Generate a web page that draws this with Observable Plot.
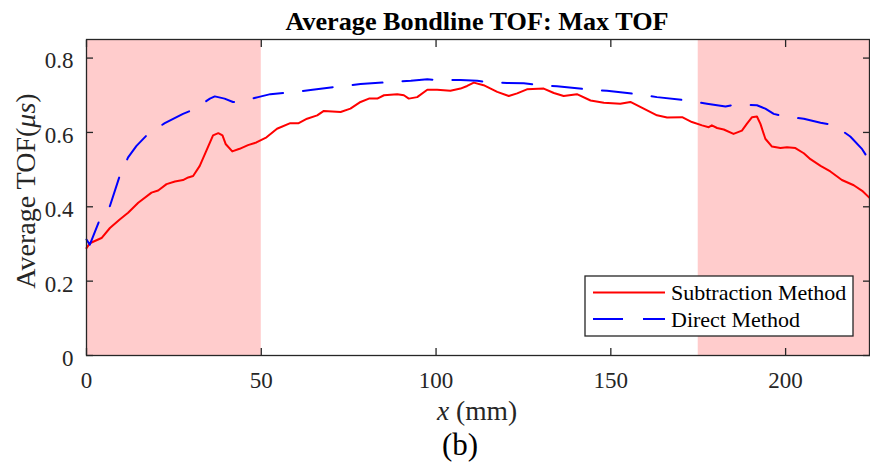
<!DOCTYPE html>
<html><head><meta charset="utf-8">
<script src="https://cdn.jsdelivr.net/npm/d3@7"></script>
<script src="https://cdn.jsdelivr.net/npm/@observablehq/plot@0.6"></script>
<style>body{margin:0;background:#fff} svg{display:block}</style>
</head><body><div id="chart"></div>
<script>
const subX = [0, 0.95, 4.3, 6.7, 9.5, 11.9, 14.8, 18.6, 20.5, 22.9, 25.3, 27.6, 29.1, 30.5, 32.4, 34.3, 36.2, 37.7, 38.9, 39.8, 41.7, 43.8, 46.2, 48.6, 51.5, 54.5, 58.3, 60.7, 63.1, 66, 67.9, 72.7, 75.5, 78.4, 80.8, 83.2, 85.1, 88.9, 90.8, 92.2, 94.6, 97.5, 100.3, 104.1, 107, 108.9, 110.8, 113.6, 117.5, 120.8, 123.2, 126, 130.8, 133.7, 136.5, 140.3, 144.2, 148, 152.7, 155.6, 159.4, 163.2, 166.1, 170.4, 173.2, 176.1, 178, 178.9, 180.4, 182.3, 185.1, 187.5, 188.9, 190.4, 191.8, 192.8, 194.2, 196.1, 198.5, 200.4, 202.8, 205.2, 207.1, 210, 212.8, 216.1, 219.5, 221.9, 224];
const subY = [0.289, 0.302, 0.316, 0.343, 0.366, 0.384, 0.411, 0.438, 0.444, 0.461, 0.468, 0.472, 0.479, 0.483, 0.51, 0.551, 0.592, 0.598, 0.592, 0.569, 0.549, 0.556, 0.566, 0.573, 0.587, 0.61, 0.625, 0.625, 0.637, 0.646, 0.658, 0.655, 0.664, 0.682, 0.691, 0.691, 0.70, 0.703, 0.70, 0.691, 0.695, 0.715, 0.715, 0.712, 0.718, 0.725, 0.734, 0.727, 0.709, 0.698, 0.705, 0.716, 0.718, 0.706, 0.698, 0.703, 0.686, 0.68, 0.677, 0.682, 0.664, 0.646, 0.64, 0.641, 0.628, 0.619, 0.614, 0.619, 0.612, 0.608, 0.596, 0.605, 0.623, 0.641, 0.643, 0.623, 0.583, 0.562, 0.558, 0.56, 0.558, 0.544, 0.528, 0.51, 0.495, 0.472, 0.458, 0.443, 0.424];
const dirX = [0, 0.95, 3.8, 6.7, 9.5, 11.9, 14.3, 17.6, 22.4, 27.6, 30.5, 35.3, 36.7, 39.5, 41.9, 43.4, 46, 49.1, 52.6, 57.4, 64.1, 71.7, 78.4, 86, 92.8, 97.5, 100.3, 107, 111.8, 114.1, 120.3, 125.1, 128.4, 134.6, 143.2, 148.9, 157.5, 163.2, 171.8, 177.5, 180.4, 182.8, 185.7, 191.8, 194.2, 196.6, 199.5, 205.2, 210, 213.8, 218.5, 221.9, 224];
const dirY = [0.312, 0.298, 0.366, 0.402, 0.483, 0.533, 0.564, 0.596, 0.625, 0.65, 0.661, 0.691, 0.697, 0.691, 0.682, 0.682, 0.688, 0.695, 0.703, 0.707, 0.714, 0.723, 0.73, 0.735, 0.739, 0.743, 0.741, 0.741, 0.739, 0.736, 0.733, 0.732, 0.729, 0.724, 0.716, 0.712, 0.703, 0.695, 0.686, 0.677, 0.673, 0.67, 0.675, 0.673, 0.664, 0.65, 0.643, 0.637, 0.626, 0.62, 0.589, 0.555, 0.524];
const shadeStart = [0, 175];
const shadeEnd = [50, 224];
const xTicks = [0, 50, 100, 150, 200];
const yTicks = [0, 0.2, 0.4, 0.6, 0.8];
const seriesNames = ["Subtraction Method", "Direct Method"];
const titleText = "Average Bondline TOF: Max TOF";

const sub = subX.map((x, i) => ({x, y: subY[i]}));
const dir = dirX.map((x, i) => ({x, y: dirY[i]}));
const shaded = shadeStart.map((s, i) => ({x1: s, x2: shadeEnd[i]}));

const axisColor = "#262626";
const ff = "Liberation Serif, Times New Roman, serif";
const plot = Plot.plot({
  width: 870, height: 466,
  marginLeft: 86, marginRight: 1, marginTop: 39, marginBottom: 111,
  style: {fontFamily: ff, fontSize: "23px", color: axisColor, background: "#fff"},
  x: {domain: [0, 224]},
  y: {domain: [0, 0.85]},
  marks: [
    Plot.rect(shaded, {x1: "x1", x2: "x2", fill: "#ffcccc"}),
    Plot.line(sub, {x: "x", y: "y", stroke: "#ff0000", strokeWidth: 2}),
    Plot.line(dir, {x: "x", y: "y", stroke: "#0000ff", strokeWidth: 2, strokeDasharray: "30,20"}),
    Plot.frame({stroke: axisColor, strokeWidth: 1.3}),
    Plot.axisX(xTicks, {anchor: "bottom", tickSize: -7, text: null, label: null, stroke: axisColor, strokeWidth: 1.3}),
    Plot.axisX(xTicks, {anchor: "top", tickSize: -7, text: null, label: null, stroke: axisColor, strokeWidth: 1.3}),
    Plot.axisY(yTicks, {anchor: "left", tickSize: -7, text: null, label: null, stroke: axisColor, strokeWidth: 1.3}),
    Plot.axisY(yTicks, {anchor: "right", tickSize: -7, text: null, label: null, stroke: axisColor, strokeWidth: 1.3}),
    Plot.axisX(xTicks, {anchor: "bottom", tickSize: 0, tickPadding: 16, label: null, fontSize: 23, fill: axisColor}),
    Plot.axisY(yTicks, {anchor: "left", tickSize: 0, tickPadding: 13, label: null, fontSize: 23, dy: 3, fill: axisColor,
      tickFormat: d => d === 0 ? "0" : d3.format(".1f")(d)})
  ]
});
document.getElementById("chart").appendChild(plot);

const svg = d3.select(plot);
svg.append("text").attr("x", 477).attr("y", 30).attr("text-anchor", "middle")
  .attr("font-family", ff).attr("font-size", 26.2).attr("font-weight", "bold").attr("fill", "#000").text(titleText);
const xl = svg.append("text").attr("x", 477).attr("y", 420).attr("text-anchor", "middle")
  .attr("font-family", ff).attr("font-size", 27.5).attr("fill", axisColor);
xl.append("tspan").attr("font-style", "italic").text("x");
xl.append("tspan").text(" (mm)");
svg.append("text").attr("x", 460).attr("y", 455).attr("text-anchor", "middle")
  .attr("font-family", ff).attr("font-size", 31).attr("fill", "#000").text("(b)");
const yl = svg.append("text").attr("transform", "translate(34.5,191) rotate(-90)").attr("text-anchor", "middle")
  .attr("font-family", ff).attr("font-size", 28).attr("fill", axisColor);
yl.append("tspan").text("Average TOF(");
yl.append("tspan").attr("font-style", "italic").text("μs");
yl.append("tspan").text(")");

const lg = svg.append("g");
lg.append("rect").attr("x", 585).attr("y", 276).attr("width", 268).attr("height", 60)
  .attr("fill", "#fff").attr("stroke", axisColor).attr("stroke-width", 1.3);
lg.append("line").attr("x1", 593).attr("x2", 665).attr("y1", 292.5).attr("y2", 292.5)
  .attr("stroke", "#ff0000").attr("stroke-width", 2);
lg.append("line").attr("x1", 593).attr("x2", 665).attr("y1", 319).attr("y2", 319)
  .attr("stroke", "#0000ff").attr("stroke-width", 2).attr("stroke-dasharray", "30,20");
lg.append("text").attr("x", 671).attr("y", 300).attr("text-anchor", "start").attr("font-family", ff).attr("font-size", 22).attr("fill", "#000").text(seriesNames[0]);
lg.append("text").attr("x", 671).attr("y", 327).attr("text-anchor", "start").attr("font-family", ff).attr("font-size", 22).attr("fill", "#000").text(seriesNames[1]);
</script>
</body></html>
